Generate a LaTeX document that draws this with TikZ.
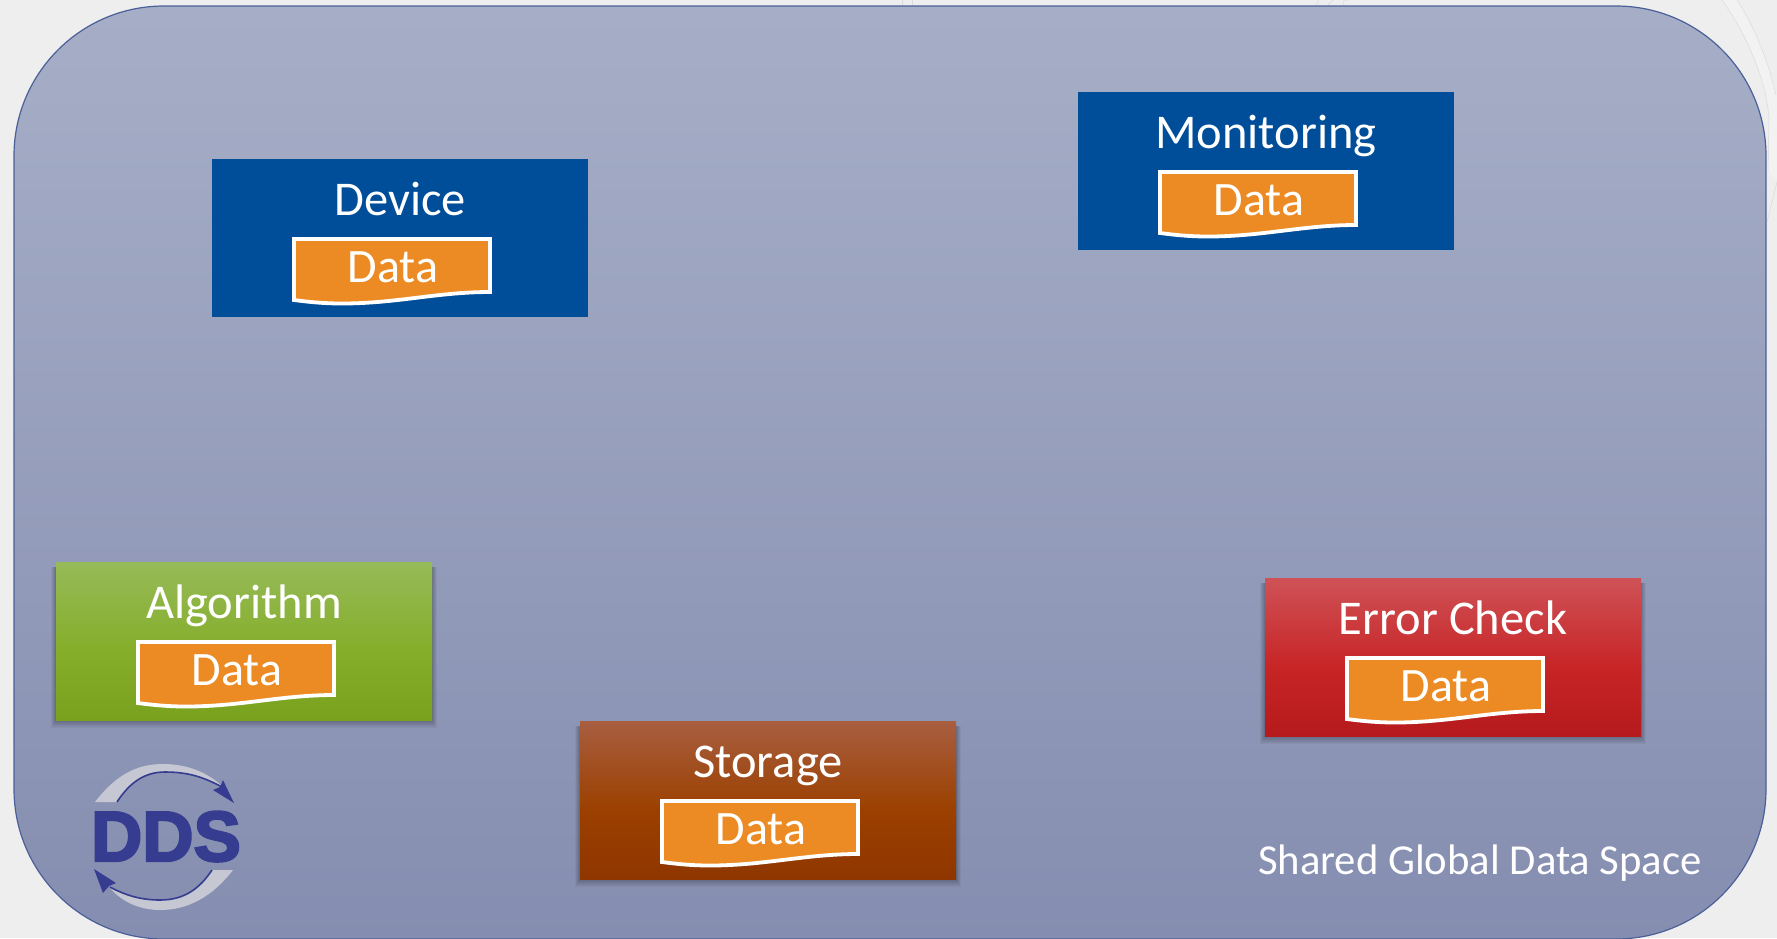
\documentclass[tikz,border=0pt]{standalone}
\usepackage{fontspec}
\setmainfont{Carlito}
\newfontfamily\logofont[BoldFeatures={FakeBold=3.2}]{Liberation Sans}
\definecolor{pagebg}{HTML}{EEEEEE}
\definecolor{bandbg}{HTML}{F2F2F2}
\definecolor{spaceedge}{HTML}{4A6098}
\definecolor{spacetop}{HTML}{A6AEC7}
\definecolor{spacebot}{HTML}{858EB0}
\definecolor{navy}{HTML}{004D99}
\definecolor{docfill}{HTML}{EC8B23}
\definecolor{logoblue}{HTML}{363C8F}
\definecolor{logogrey}{HTML}{C5C7D3}
\definecolor{faintline}{HTML}{DADADA}
\definecolor{grntop}{HTML}{96BA58}\definecolor{grnmid}{HTML}{85AE2A}\definecolor{grnbot}{HTML}{7AA11E}
\definecolor{redtop}{HTML}{CF5257}\definecolor{redmid}{HTML}{C72526}\definecolor{redbot}{HTML}{B61A1C}
\definecolor{brntop}{HTML}{A85E40}\definecolor{brnmid}{HTML}{9B4000}\definecolor{brnbot}{HTML}{8F3600}
\pgfdeclareverticalshading{grnshade}{100bp}{color(0bp)=(grnbot); color(25bp)=(grnbot); color(47bp)=(grnmid); color(75bp)=(grntop); color(100bp)=(grntop)}
\pgfdeclareverticalshading{redshade}{100bp}{color(0bp)=(redbot); color(25bp)=(redbot); color(47bp)=(redmid); color(75bp)=(redtop); color(100bp)=(redtop)}
\pgfdeclareverticalshading{brnshade}{100bp}{color(0bp)=(brnbot); color(25bp)=(brnbot); color(47bp)=(brnmid); color(75bp)=(brntop); color(100bp)=(brntop)}
\tikzset{
  x=1pt,y=-1pt,
  titletext/.style={text=white,font=\fontsize{48.5}{48.5}\selectfont,inner sep=0pt,anchor=base},
  datatext/.style={text=white,font=\fontsize{48}{48}\selectfont,inner sep=0pt,anchor=base},
  docshape/.style={draw=white,line width=3.8pt,fill=docfill,miter limit=10},
  flatbox/.style={fill=navy},
  grnbox/.style={shade,shading=grnshade},
  redbox/.style={shade,shading=redshade},
  brnbox/.style={shade,shading=brnshade},
  faint/.style={faintline,line width=0.5pt},
}
% #1 name, #2 left, #3 top, #4 title, #5 fill style
\newcommand{\appbox}[5]{%
  \begin{scope}[shift={(#2,#3)}]
    \node[inner sep=0pt,minimum width=376pt,minimum height=158pt,anchor=north west,#5] (#1) at (0,0) {};
    \node[titletext] (#1title) at (188,56) {#4};
    \draw[docshape] (82,80) -- (278,80) -- (278,133) .. controls (225,133) and (185,144.5) .. (130,144.5) .. controls (112,144.5) and (97,143) .. (82,141) -- cycle;
    \node[datatext] (#1data) at (181,123) {Data};
  \end{scope}}
% soft shadow under a box
\newcommand{\softshadow}[2]{%
  \begin{scope}[shift={(#1,#2)}]
    \foreach \g in {8,7,6,5,4,3,2,1}
      \fill[black,opacity=0.035] (-\g*0.6,5) rectangle (376+\g*0.6,158+\g);
  \end{scope}}
\begin{document}
\begin{tikzpicture}
\useasboundingbox (0,0) rectangle (1777,938);
\fill[pagebg] (0,0) rectangle (1777,938);
% faint background band and marks
\fill[bandbg] (1722,0) .. controls (1745,32) and (1767,80) .. (1769,120) -- (1768,172) -- (1777,180) -- (1777,95) .. controls (1768,60) and (1755,28) .. (1737,0) -- cycle;
\draw[faint] (1722,0) .. controls (1745,32) and (1767,80) .. (1769,120) -- (1768,172);
\draw[faint] (1737,0) .. controls (1755,28) and (1768,60) .. (1776,95);
\draw[faint] (1777,182) -- (1767,222);
\draw[faint] (902,0) -- (902,5);
\draw[faint] (912,0) -- (912,5);
\draw[faint] (1316,5) -- (1319,0);
\draw[faint] (1328,5) -- (1333,0);
\draw[faint] (1343,5) -- (1344,0) -- (1348,0);
\draw[faint] (1648,938) -- (1652,930);
% shared space
\draw[draw=spaceedge,line width=1.2pt,top color=spacetop,bottom color=spacebot,rounded corners=150pt] (14,6) rectangle (1766,939);
\softshadow{56}{562}
\softshadow{1265}{578}
\softshadow{580}{721}
\appbox{device}{212}{159}{Device}{flatbox}
\appbox{monitoring}{1078}{92}{Monitoring}{flatbox}
\appbox{algorithm}{56}{562}{Algorithm}{grnbox}
\appbox{errorcheck}{1265}{578}{Error Check}{redbox}
\appbox{storage}{580}{721}{Storage}{brnbox}
\node[text=white,font=\fontsize{42.7}{42.7}\selectfont,inner sep=0pt,anchor=base] (spacelabel) at (1480,874) {Shared Global Data Space};
% logo
\fill[logogrey] (95,802) .. controls (118,772) and (140,764) .. (163,764) .. controls (188,764) and (208,773) .. (222,786) .. controls (205,778) and (190,772) .. (165,772) .. controls (145,772) and (130,782) .. (117,802) -- cycle;
\draw[logoblue,line width=1.6pt] (117,802) .. controls (130,782) and (145,772) .. (165,772) .. controls (190,772) and (205,778) .. (222,787);
\fill[logoblue] (234,803) -- (223,780) -- (220,787) -- (213,790) -- cycle;
\fill[logogrey] (233,870) .. controls (212,897) and (188,910) .. (160,910) .. controls (140,910) and (122,902) .. (110,888) .. controls (125,895) and (140,900) .. (160,900) .. controls (185,900) and (200,888) .. (212,870) -- cycle;
\draw[logoblue,line width=1.6pt] (212,870) .. controls (200,888) and (185,900) .. (160,900) .. controls (140,900) and (125,895) .. (110,887);
\fill[logoblue] (94,869) -- (103,893) -- (109,886) -- (116,883) -- cycle;
\node[text=logoblue,inner sep=0pt,anchor=base] (logo) at (166,861) {\logofont\bfseries\fontsize{71}{71}\selectfont DDS};
\end{tikzpicture}
\end{document}
